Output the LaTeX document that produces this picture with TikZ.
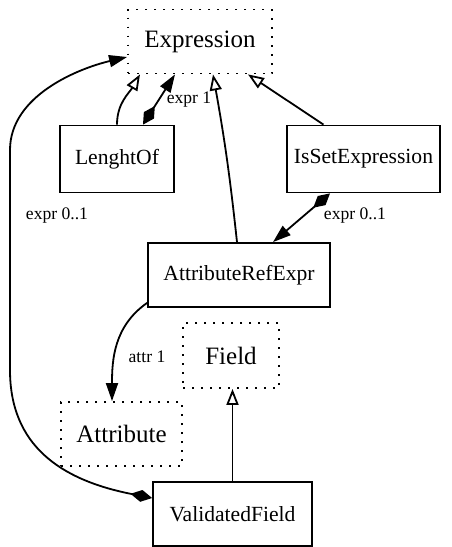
\documentclass[tikz,border=0pt]{standalone}
\usepackage{fontspec}
\setmainfont{Liberation Serif}
\usetikzlibrary{arrows.meta}
\tikzset{
  cls/.style={draw=black,line width=0.9pt,inner sep=0pt,minimum height=32pt,font=\fontsize{10.8}{13}\selectfont},
  abstr/.style={draw=black,line width=0.9pt,dash pattern=on 0.9pt off 3.6pt,inner sep=0pt,minimum height=32pt,font=\fontsize{12.5}{15}\selectfont},
  inherit/.style={-{Triangle[open,length=8pt,width=6pt]},line width=0.9pt},
  compose/.style={{Diamond[length=11pt,width=6pt]}-{Triangle[length=9pt,width=6pt]},line width=0.9pt},
  lbl/.style={inner sep=0pt,font=\fontsize{8.8}{10}\selectfont}
}
\begin{document}
\begin{tikzpicture}[x=0.5pt,y=-0.5pt]
    \useasboundingbox (0,0) rectangle (451,547);
    \node[abstr,minimum width=72pt] (expr) at (200,41.5) {Expression};
    \node[cls,minimum width=57pt,minimum height=33.5pt] (len) at (117,159) {LenghtOf};
    \node[cls,minimum width=76.5pt,minimum height=33.5pt] (ise) at (363.5,159) {IsSetExpression};
    \node[cls,minimum width=91pt] (are) at (239,275) {AttributeRefExpr};
    \node[abstr,minimum width=48pt,minimum height=32.5pt] (fld) at (231,355.5) {Field};
    \node[abstr,minimum width=60.5pt] (att) at (121.5,434) {Attribute};
    \node[cls,minimum width=79.5pt] (vf) at (232.5,514) {ValidatedField};
    \draw[inherit] (len.north) to[out=90,in=-120] ([xshift=-30pt]expr.south);
    \draw[compose] ([xshift=13pt]len.north) -- ([xshift=-12.5pt]expr.south);
    \node[lbl] (lexpr1) at (189,100) {expr 1};
    \draw[inherit] ([xshift=-1pt]are.north) to[bend right=2] ([xshift=6.5pt]expr.south);
    \draw[inherit] ([xshift=-20pt]ise.north) -- ([xshift=24pt]expr.south);
    \draw[compose] ([xshift=-16.75pt]ise.south) -- ([xshift=17pt]are.north);
    \node[lbl] (lexpr2) at (355,216) {expr 0..1};
    \draw[-{Triangle[length=9pt,width=6pt]},line width=0.9pt] ([yshift=2.5pt]are.south west) to[out=215,in=90] ([xshift=-4.75pt]att.north);
    \node[lbl] (lattr) at (147,357) {attr 1};
    \draw[inherit] (vf.north) -- (vf.north |- fld.south);
    \draw[compose] ([yshift=8pt]vf.west) .. controls (60,480) and (10,445) .. (10,370) -- (10,150) .. controls (10,95) and (80,68) .. ([yshift=-7.75pt]expr.west);
    \node[lbl] (lexpr3) at (57,216) {expr 0..1};
\end{tikzpicture}
\end{document}
